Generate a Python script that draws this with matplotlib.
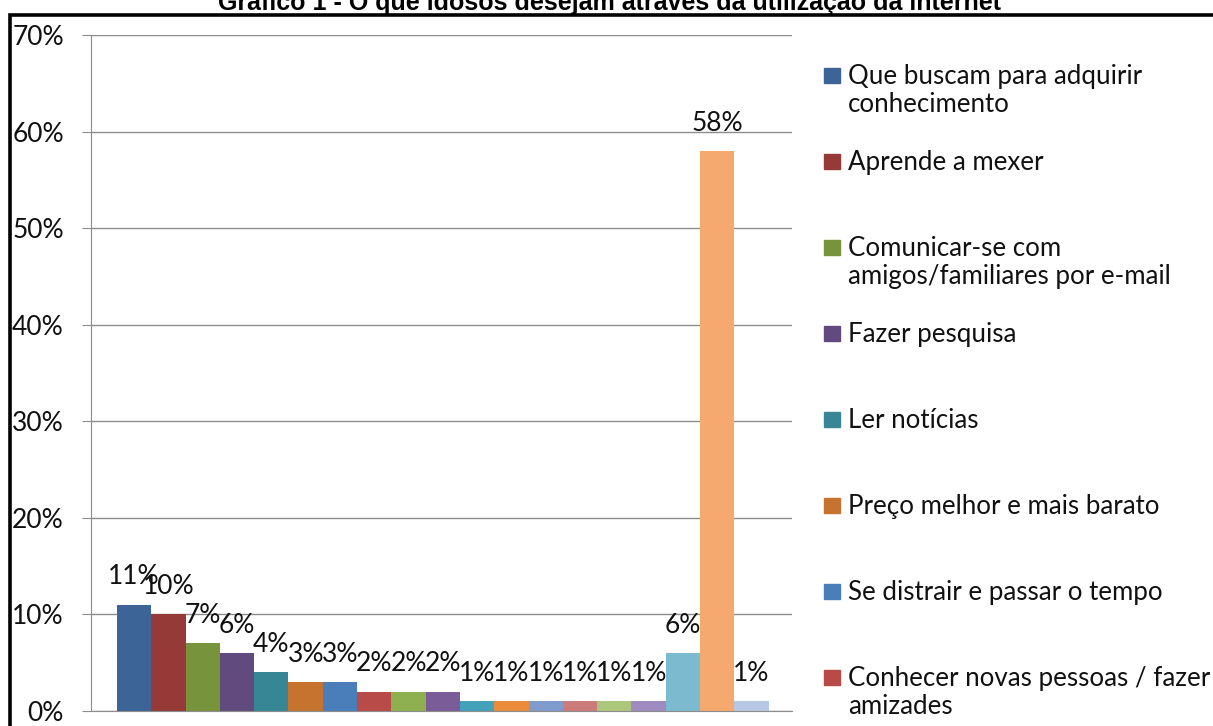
import matplotlib.pyplot as plt
from matplotlib.patches import Rectangle
from matplotlib.ticker import FuncFormatter

# Dados
valores = [11, 10, 7, 6, 4, 3, 3, 2, 2, 2, 1, 1, 1, 1, 1, 1, 6, 58, 1]
cores = ["#3C6496", "#953A37", "#77933C", "#614A7D", "#378696", "#C5732F",
         "#4A7EBB", "#B84A47", "#8FB050", "#7A5C98", "#44A1BA", "#EA8B3C",
         "#7F9BCB", "#CC7B7B", "#ACC67C", "#9E8BBF", "#7CBACF", "#F6A96F",
         "#B7C7E3"]
legenda = ["Que buscam para adquirir\nconhecimento",
           "Aprende a mexer",
           "Comunicar-se com\namigos/familiares por e-mail",
           "Fazer pesquisa",
           "Ler notícias",
           "Preço melhor e mais barato",
           "Se distrair e passar o tempo",
           "Conhecer novas pessoas / fazer\namizades"]
titulo = "Gráfico 1 - O que idosos desejam através da utilização da internet"

W, H = 1213, 726
fig = plt.figure(figsize=(W / 100, H / 100), dpi=100)
fonte = "Lato"
tam = 19

ax = fig.add_axes([91 / W, 1 - 711 / H, (792 - 91) / W, (711 - 35) / H])
pos = list(range(len(valores)))
bars = ax.bar(pos, valores, width=1.0, align="edge", color=cores, linewidth=0)
for b, v in zip(bars, valores):
    ax.annotate(f"{v}%", (b.get_x() + b.get_width() / 2, v), xytext=(0, 20),
                textcoords="offset points", ha="center", va="center",
                fontsize=tam, family=fonte, color="#111111")

ax.set_xlim(-(117 - 91) / 34.3, (792 - 117) / 34.3)
ax.set_ylim(0, 70)
ax.set_yticks(range(0, 71, 10))
ax.yaxis.set_major_formatter(FuncFormatter(lambda v, p: f"{int(v)}%"))
ax.set_xticks([])
ax.grid(axis="y", color="#8C8C8C", linewidth=1)
ax.set_axisbelow(True)
for s in ["top", "right"]:
    ax.spines[s].set_visible(False)
ax.spines["left"].set_color("#8C8C8C")
ax.spines["bottom"].set_color("#8C8C8C")
ax.tick_params(axis="y", length=6.5, color="#8C8C8C", labelsize=tam, pad=13)
for t in ax.get_yticklabels():
    t.set_family(fonte)
    t.set_color("#111111")

# legenda desenhada à mão (espaçamento uniforme como no original)
for i, (txt, c) in enumerate(zip(legenda, cores)):
    yc = 75 + 86 * i
    fig.patches.append(Rectangle((824 / W, 1 - (yc + 8) / H), 16 / W, 15 / H,
                                 transform=fig.transFigure, color=c))
    fig.text(848 / W, 1 - (yc - 11) / H, txt, ha="left", va="top",
             fontsize=18.6, family=fonte, linespacing=1.15, color="#111111")

fig.text(610 / W, 1 - 10 / H, titulo, ha="center", va="baseline",
         fontsize=18, fontweight="bold", family="Liberation Sans")
fig.patches.append(Rectangle((10 / W, -0.1), 1.2, 1 - 14.5 / H + 0.1,
                             transform=fig.transFigure, fill=False,
                             edgecolor="black", linewidth=2.6))

fig.savefig("out.png", dpi=100)
